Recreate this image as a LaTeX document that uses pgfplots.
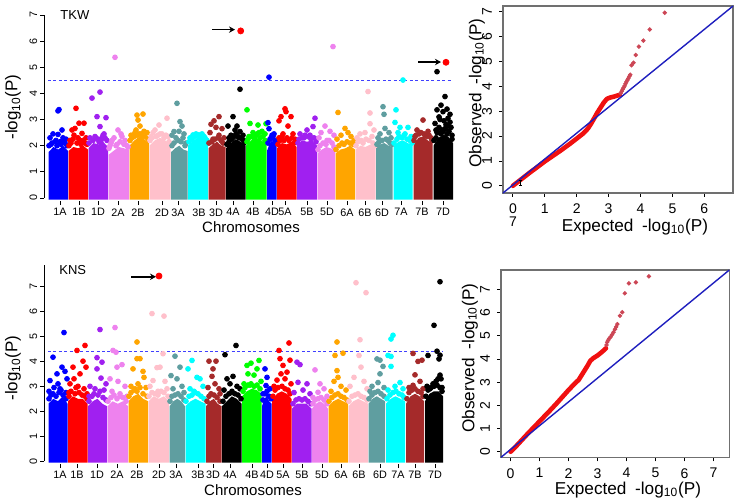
\documentclass[border=0pt]{standalone}
\usepackage{fontspec}
\setmainfont{Liberation Sans}
\usepackage{pgfplots}
\pgfplotsset{compat=1.18}
\usetikzlibrary{arrows.meta}
\definecolor{cBlue}{HTML}{0000FF}
\definecolor{cRed}{HTML}{FF0000}
\definecolor{cPurple}{HTML}{A020F0}
\definecolor{cViolet}{HTML}{EE82EE}
\definecolor{cOrange}{HTML}{FFA500}
\definecolor{cPink}{HTML}{FFC0CB}
\definecolor{cCadet}{HTML}{5F9EA0}
\definecolor{cCyan}{HTML}{00FFFF}
\definecolor{cBrown}{HTML}{A52A2A}
\definecolor{cBlack}{HTML}{000000}
\definecolor{cGreen}{HTML}{00FF00}
\definecolor{cThr}{HTML}{4040FF}
\definecolor{qqgray}{HTML}{707070}
\definecolor{qqred}{HTML}{F01010}
\definecolor{qqsparse}{HTML}{CC4655}
\definecolor{qqblue}{HTML}{1E1EBE}
\newcommand{\chrom}[4]{%
  \addplot[draw=none,fill=#1,forget plot] coordinates {#2};
  \addplot[only marks,mark=*,mark size=1.2pt,color=#1,forget plot] coordinates {#3 #4};}
\pgfplotsset{
 manh/.style={anchor=south west, x=0.5pt, clip=false, enlargelimits=false,
   axis lines*=left, axis line style={draw=none}, tick align=outside,
   major tick length=2pt, tick style={black,line width=0.4pt},
   ticklabel style={font=\fontsize{5.4}{6}\selectfont},
   yticklabel style={rotate=90,anchor=south,inner sep=1.2pt},
   xticklabel style={inner sep=1.5pt},
   ytick={0,...,7}, /pgf/number format/assume math mode=true},
 qq/.style={anchor=south west, clip=false, enlargelimits=false,
   axis line style={draw=qqgray,line width=0.6pt}, tick align=outside, tick pos=left,
   major tick length=2pt, tick style={black,line width=0.4pt},
   ticklabel style={font=\fontsize{7}{8}\selectfont},
   yticklabel style={rotate=90,anchor=south},
   /pgf/number format/assume math mode=true}
}
\begin{document}
\begin{tikzpicture}
\useasboundingbox (0pt,0pt) rectangle (369pt,-250.5pt);
% ---------------- TKW Manhattan ----------------
\begin{axis}[manh, at={(22pt,-100.55pt)}, y=13.07pt, xmin=44, xmax=456, ymin=-0.12, ymax=7.3,
 xtick={60,79,98,118,138,162,178,199,216,233,253,272,285,307,327,347,365,382,401,422,443},
 xticklabels={1A,1B,1D,2A,2B,2D,3A,3B,3D,4A,4B,4D,5A,5B,5D,6A,6B,6D,7A,7B,7D}]
\draw[black,line width=0.4pt] (axis cs:44,0) -- (axis cs:44,7);
\chrom{cBlue}{(48.5,-0.06)(48.5,1.75)(53.4,1.95)(58.3,1.85)(63.1,2.0)(68.0,1.8)(68.0,-0.06)}{(50,2.3)(53,2.45)(58,2.43)(58,3.33)(59,3.38)(62,2.6)(64,2.2)(66,2.25)(55,2.15)(61,2.05)(67,2.0)(52,2.1)}{(49,2.0)(51,2.05)(56,2.2)(60,2.15)(63,2.3)(65,2.1)(57,2.0)}
\chrom{cRed}{(68.5,-0.06)(68.5,1.8)(73.4,1.95)(78.3,1.9)(83.1,2.0)(88.0,1.85)(88.0,-0.06)}{(70,2.2)(72,2.6)(76,3.43)(79,2.86)(84,2.86)(82,2.47)(75,2.66)(86,2.3)(73,2.25)(80,2.2)(77,2.1)(87,2.05)}{(69,2.0)(71,2.1)(74,2.4)(78,2.3)(81,2.05)(85,2.1)(83,2.2)}
\chrom{cPurple}{(88.5,-0.06)(88.5,1.9)(93.4,2.1)(98.3,2.05)(103.1,2.15)(108.0,1.95)(108.0,-0.06)}{(92,3.82)(100,4.05)(97,3.11)(106,3.07)(100,2.73)(104,2.45)(95,2.35)(90,2.3)(102,2.3)(107,2.2)(98,2.25)}{(89,2.1)(93,2.2)(96,2.3)(99,2.15)(103,2.4)(105,2.3)(101,2.2)}
\chrom{cViolet}{(108.5,-0.06)(108.5,1.65)(113.6,1.8)(118.8,1.95)(123.9,1.9)(129.0,1.85)(129.0,-0.06)}{(115,5.38)(118,2.6)(121,2.45)(122,2.35)(112,2.2)(125,2.2)(117,2.05)(110,2.0)(127,2.0)}{(109,1.9)(111,2.1)(114,2.3)(116,2.0)(120,2.15)(124,2.05)(128,1.95)}
\chrom{cOrange}{(129.5,-0.06)(129.5,2.0)(134.4,2.2)(139.3,2.35)(144.1,2.25)(149.0,2.1)(149.0,-0.06)}{(137,3.17)(143,3.21)(138,2.98)(140,2.75)(136,2.6)(144,2.55)(131,2.4)(147,2.5)(139,2.45)(134,2.35)(142,2.35)}{(130,2.2)(132,2.3)(135,2.5)(141,2.45)(145,2.35)(148,2.25)(137,2.4)}
\chrom{cPink}{(149.5,-0.06)(149.5,2.0)(154.8,2.2)(160.0,2.3)(165.3,2.2)(170.5,2.0)(170.5,-0.06)}{(167,3.05)(159,2.79)(153,2.5)(155,2.6)(162,2.45)(168,2.35)(151,2.35)(158,2.4)}{(150,2.2)(152,2.3)(156,2.35)(160,2.45)(164,2.3)(166,2.4)(169,2.15)}
\chrom{cCadet}{(171.0,-0.06)(171.0,1.75)(175.1,1.9)(179.3,2.0)(183.4,1.85)(187.5,1.8)(187.5,-0.06)}{(177,3.62)(180,2.92)(182,2.75)(174,2.54)(179,2.55)(184,2.45)(172,2.4)(176,2.3)(186,2.1)}{(172,2.0)(174,2.1)(178,2.2)(181,2.15)(183,2.3)(185,2.0)}
\chrom{cCyan}{(188.0,-0.06)(188.0,2.0)(193.0,2.2)(198.0,2.3)(203.0,2.25)(208.0,2.05)(208.0,-0.06)}{(193,2.41)(199,2.41)(190,2.3)(204,2.35)(196,2.45)(201,2.3)(206,2.15)}{(189,2.15)(192,2.25)(195,2.35)(198,2.4)(202,2.45)(205,2.3)(207,2.2)}
\chrom{cBrown}{(208.5,-0.06)(208.5,1.9)(212.8,2.05)(217.0,2.15)(221.3,2.0)(225.5,1.95)(225.5,-0.06)}{(219,3.11)(211,2.82)(214,2.95)(216,2.7)(222,2.65)(210,2.5)(219,2.4)(224,2.3)(213,2.25)}{(209,2.1)(212,2.15)(215,2.25)(218,2.3)(221,2.2)(223,2.1)}
\chrom{cBlack}{(226.0,-0.06)(226.0,1.9)(230.9,2.1)(235.8,2.25)(240.6,2.15)(245.5,2.0)(245.5,-0.06)}{(233,3.11)(228,2.75)(237,2.75)(240,4.16)(240,2.54)(235,2.6)(231,2.4)(238,2.35)(243,2.4)(229,2.3)(244,2.2)}{(227,2.05)(229,2.15)(232,2.25)(234,2.35)(236,2.45)(239,2.3)(242,2.25)(244,2.1)}
\chrom{cGreen}{(246.0,-0.06)(246.0,2.0)(251.1,2.2)(256.3,2.3)(261.4,2.2)(266.5,2.05)(266.5,-0.06)}{(247,3.37)(250,2.85)(258,2.79)(266,2.84)(253,2.5)(256,2.4)(262,2.55)(249,2.35)(260,2.3)(265,2.45)}{(247,2.15)(248,2.25)(252,2.35)(254,2.3)(257,2.45)(259,2.5)(263,2.35)(265,2.2)}
\chrom{cBlue}{(267.0,-0.06)(267.0,1.8)(269.4,2.05)(271.8,2.2)(274.1,2.1)(276.5,1.95)(276.5,-0.06)}{(269,4.62)(268,2.88)(269,2.65)(274,2.45)(271,2.3)(275,2.2)}{(268,2.1)(270,2.25)(272,2.4)(273,2.35)(276,2.1)}
\chrom{cRed}{(277.0,-0.06)(277.0,1.9)(281.9,2.1)(286.8,2.05)(291.6,2.15)(296.5,1.95)(296.5,-0.06)}{(285,3.41)(286,3.3)(281,3.11)(279,2.95)(291,3.11)(288,2.75)(293,2.45)(283,2.45)(279,2.3)(295,2.25)}{(278,2.05)(280,2.2)(282,2.35)(284,2.2)(287,2.3)(289,2.2)(292,2.3)(294,2.1)}
\chrom{cPurple}{(297.0,-0.06)(297.0,2.0)(302.0,2.2)(307.0,2.15)(312.0,2.2)(317.0,2.0)(317.0,-0.06)}{(315,3.05)(313,2.73)(307,2.6)(300,2.45)(310,2.4)(304,2.3)(316,2.25)}{(298,2.1)(299,2.25)(302,2.3)(305,2.4)(308,2.35)(311,2.25)(314,2.3)(316,2.15)}
\chrom{cViolet}{(317.5,-0.06)(317.5,1.7)(321.9,1.85)(326.3,1.95)(330.6,1.9)(335.0,1.8)(335.0,-0.06)}{(333,5.79)(325,2.75)(330,2.55)(321,2.5)(334,2.4)(319,2.3)(327,2.2)}{(318,1.85)(320,2.0)(323,2.1)(326,2.05)(329,2.2)(332,2.1)(334,1.95)}
\chrom{cOrange}{(335.5,-0.06)(335.5,1.7)(340.4,1.85)(345.3,1.9)(350.1,2.0)(355.0,1.85)(355.0,-0.06)}{(338,3.27)(345,2.66)(348,2.5)(341,2.4)(351,2.35)(337,2.25)(354,2.2)}{(336,1.85)(339,2.0)(342,2.1)(344,2.05)(347,2.15)(350,2.1)(353,2.05)}
\chrom{cPink}{(355.5,-0.06)(355.5,1.85)(360.5,2.0)(365.5,1.95)(370.5,2.05)(375.5,1.9)(375.5,-0.06)}{(368,4.07)(370,3.25)(370,2.84)(365,2.5)(360,2.45)(374,2.6)(372,2.35)(357,2.3)}{(356,2.0)(358,2.15)(361,2.2)(363,2.1)(366,2.25)(369,2.2)(373,2.1)(375,2.0)}
\chrom{cCadet}{(376.0,-0.06)(376.0,1.9)(380.1,2.05)(384.3,2.1)(388.4,2.0)(392.5,1.95)(392.5,-0.06)}{(383,3.49)(384,3.2)(385,2.66)(380,2.45)(389,2.5)(378,2.3)(391,2.3)}{(377,2.05)(379,2.15)(382,2.2)(386,2.25)(388,2.2)(390,2.1)(392,2.05)}
\chrom{cCyan}{(393.5,-0.06)(393.5,1.95)(398.3,2.15)(403.0,2.2)(407.8,2.1)(412.5,2.0)(412.5,-0.06)}{(403,4.51)(396,3.37)(395,2.89)(400,2.7)(408,2.7)(398,2.5)(405,2.45)(411,2.35)}{(394,2.1)(397,2.25)(399,2.35)(402,2.3)(404,2.4)(407,2.25)(410,2.2)(412,2.1)}
\chrom{cBrown}{(413.5,-0.06)(413.5,2.0)(418.3,2.3)(423.0,2.35)(427.8,2.2)(432.5,2.1)(432.5,-0.06)}{(423,2.98)(420,2.5)(417,2.6)(428,2.55)(425,2.4)(415,2.35)(431,2.3)}{(414,2.2)(416,2.4)(419,2.45)(421,2.5)(424,2.45)(427,2.35)(429,2.4)(432,2.2)}
\chrom{cBlack}{(433.5,-0.06)(433.5,2.0)(438.4,2.3)(443.3,2.4)(448.1,2.35)(453.0,2.1)(453.0,-0.06)}{(437,4.83)(445,3.88)(437,3.37)(443,3.3)(448,3.05)(450,3.2)(440,3.0)(446,2.8)(435,2.85)(451,2.7)(442,2.6)(438,2.5)(447,2.45)(452,2.4)(436,2.3)(444,2.3)}{(434,2.2)(437,2.5)(439,2.7)(441,2.45)(443,2.55)(445,2.65)(449,2.55)(450,2.9)(452,2.25)(439,3.1)(444,2.95)(448,2.75)(436,2.6)(447,3.4)(441,3.55)}
\addplot[draw=cThr,dash pattern=on 1.5pt off 1.2pt,line width=0.6pt,forget plot] coordinates {(48,4.5)(453,4.5)};
\addplot[only marks,mark=*,mark size=1.5pt,color=cRed,forget plot] coordinates {(240.7,6.39)(446,5.19)};
\addplot[black,line width=0.8pt,-{Stealth[length=3pt,width=3.2pt]},forget plot] coordinates {(212,6.44)(235,6.44)};
\addplot[black,line width=0.8pt,-{Stealth[length=3pt,width=3.2pt]},forget plot] coordinates {(418,5.2)(441,5.2)};
\end{axis}
% ---------------- KNS Manhattan ----------------
\begin{axis}[manh, at={(22pt,-232pt)}, y=12.45pt, xmin=44, xmax=446, ymin=-0.12, ymax=8.0,
 xtick={60,77,97,117,137,159,176,198,213,230,252,267,283,302,322,341,359,380,398,415,435},
 xticklabels={1A,1B,1D,2A,2B,2D,3A,3B,3D,4A,4B,4D,5A,5B,5D,6A,6B,6D,7A,7B,7D}]
\draw[black,line width=0.4pt] (axis cs:44,0) -- (axis cs:44,7.88);
\chrom{cBlue}{(48.5,-0.06)(48.5,2.3)(53.3,2.5)(58.0,2.4)(62.8,2.6)(67.5,2.3)(67.5,-0.06)}{(64,5.16)(53,4.17)(62,3.77)(65,3.6)(57,3.5)(50,3.23)(67,3.3)(58,3.1)(54,2.95)(61,2.85)(49,2.8)(66,2.75)}{(49,2.5)(51,2.65)(53,2.7)(56,2.6)(59,2.75)(63,2.65)(66,2.5)(60,2.9)}
\chrom{cRed}{(68.0,-0.06)(68.0,2.4)(72.9,2.6)(77.8,2.5)(82.6,2.5)(87.5,2.3)(87.5,-0.06)}{(77,4.44)(85,4.64)(83,4.01)(86,3.77)(73,3.77)(80,3.5)(74,3.3)(70,3.1)(78,3.0)(84,2.9)(69,2.75)(87,2.7)}{(69,2.6)(71,2.8)(75,2.7)(79,2.75)(82,2.65)(85,2.6)(87,2.5)(76,2.95)}
\chrom{cPurple}{(88.0,-0.06)(88.0,2.2)(92.8,2.4)(97.5,2.5)(102.3,2.3)(107.0,2.2)(107.0,-0.06)}{(100,5.28)(97,4.15)(102,3.97)(97,3.7)(101,3.33)(90,3.0)(95,2.9)(104,2.85)(106,3.1)(89,2.6)}{(89,2.4)(92,2.6)(94,2.7)(98,2.65)(100,2.8)(103,2.55)(106,2.45)}
\chrom{cViolet}{(107.5,-0.06)(107.5,2.2)(112.6,2.4)(117.8,2.3)(122.9,2.4)(128.0,2.2)(128.0,-0.06)}{(115,5.36)(113,4.44)(116,4.37)(122,3.87)(117,3.77)(110,3.3)(118,3.2)(125,3.0)(112,2.8)(120,2.7)(127,2.6)}{(108,2.4)(111,2.55)(114,2.65)(117,2.5)(120,2.6)(123,2.55)(126,2.4)}
\chrom{cOrange}{(128.5,-0.06)(128.5,2.4)(133.4,2.6)(138.3,2.7)(143.1,2.5)(148.0,2.4)(148.0,-0.06)}{(137,4.78)(140,4.11)(137,4.11)(133,3.7)(143,3.6)(144,3.36)(131,3.0)(138,3.1)(146,2.95)(135,2.9)}{(129,2.6)(131,2.75)(134,2.85)(137,2.8)(140,2.95)(143,2.7)(147,2.6)}
\chrom{cPink}{(148.5,-0.06)(148.5,2.4)(153.6,2.6)(158.8,2.5)(163.9,2.6)(169.0,2.4)(169.0,-0.06)}{(152,5.92)(164,5.82)(163,4.31)(160,3.77)(157,3.75)(153,3.23)(165,3.2)(150,3.0)(167,2.9)(158,2.8)}{(149,2.6)(152,2.75)(155,2.7)(158,2.65)(161,2.8)(164,2.75)(168,2.6)}
\chrom{cCadet}{(169.5,-0.06)(169.5,2.2)(173.4,2.4)(177.3,2.5)(181.1,2.4)(185.0,2.2)(185.0,-0.06)}{(175,4.21)(180,3.77)(171,3.43)(177,3.3)(182,3.0)(173,2.9)(184,2.75)}{(170,2.4)(172,2.6)(175,2.65)(178,2.7)(181,2.6)(184,2.45)}
\chrom{cCyan}{(185.5,-0.06)(185.5,2.2)(190.5,2.4)(195.5,2.5)(200.5,2.4)(205.5,2.3)(205.5,-0.06)}{(192,4.04)(188,3.7)(197,3.36)(200,3.3)(203,3.0)(190,2.9)(194,2.8)}{(186,2.4)(189,2.6)(192,2.65)(195,2.75)(198,2.7)(201,2.6)(204,2.5)}
\chrom{cBrown}{(206.0,-0.06)(206.0,2.2)(209.9,2.4)(213.8,2.5)(217.6,2.3)(221.5,2.2)(221.5,-0.06)}{(209,4.01)(216,4.01)(213,3.7)(212,3.4)(215,3.1)(208,2.95)(219,2.9)(220,2.7)}{(207,2.4)(209,2.6)(211,2.7)(214,2.65)(217,2.55)(220,2.4)}
\chrom{cBlack}{(222.0,-0.06)(222.0,2.2)(226.9,2.4)(231.8,2.6)(236.6,2.5)(241.5,2.3)(241.5,-0.06)}{(225,4.27)(236,4.64)(227,3.3)(233,3.4)(230,3.1)(237,3.0)(224,2.85)(240,2.9)(232,2.75)}{(223,2.4)(226,2.6)(229,2.7)(232,2.8)(235,2.7)(238,2.65)(241,2.5)}
\chrom{cGreen}{(242.0,-0.06)(242.0,2.6)(246.9,2.8)(251.8,2.9)(256.6,2.85)(261.5,2.7)(261.5,-0.06)}{(247,3.84)(251,3.93)(259,4.04)(248,3.5)(254,3.45)(257,3.7)(244,3.1)(261,3.2)(250,3.05)}{(243,2.8)(245,2.95)(248,3.05)(251,3.1)(254,3.0)(257,3.05)(260,2.9)}
\chrom{cBlue}{(262.0,-0.06)(262.0,2.2)(264.4,2.5)(266.8,2.6)(269.1,2.4)(271.5,2.3)(271.5,-0.06)}{(265,3.7)(267,3.36)(266,3.03)(270,2.9)(263,2.7)}{(263,2.45)(265,2.7)(267,2.8)(269,2.6)(271,2.5)}
\chrom{cRed}{(272.0,-0.06)(272.0,2.4)(276.9,2.7)(281.8,2.8)(286.6,2.7)(291.5,2.5)(291.5,-0.06)}{(279,4.44)(289,4.74)(280,4.11)(290,4.05)(283,3.84)(287,3.57)(281,3.5)(285,3.3)(277,3.25)(274,3.0)(291,3.1)}{(273,2.6)(275,2.85)(278,2.95)(282,3.0)(285,2.9)(288,2.85)(290,2.7)}
\chrom{cPurple}{(292.0,-0.06)(292.0,2.1)(296.9,2.3)(301.8,2.3)(306.6,2.3)(311.5,2.1)(311.5,-0.06)}{(297,3.97)(300,3.87)(298,3.16)(307,3.1)(303,2.85)(310,2.7)(294,2.75)}{(293,2.3)(296,2.45)(299,2.5)(302,2.45)(305,2.5)(308,2.4)(311,2.3)}
\chrom{cViolet}{(312.0,-0.06)(312.0,2.1)(316.0,2.3)(320.0,2.4)(324.0,2.3)(328.0,2.1)(328.0,-0.06)}{(315,3.66)(320,3.1)(318,2.76)(324,2.9)(327,2.6)(313,2.55)}{(313,2.3)(315,2.45)(318,2.5)(321,2.55)(324,2.45)(327,2.3)}
\chrom{cOrange}{(328.5,-0.06)(328.5,2.2)(333.4,2.4)(338.3,2.5)(343.1,2.4)(348.0,2.3)(348.0,-0.06)}{(335,4.24)(337,4.78)(343,4.33)(337,3.63)(338,3.36)(334,3.2)(341,3.0)(346,2.85)(331,2.8)}{(329,2.4)(332,2.55)(335,2.65)(338,2.7)(341,2.6)(344,2.55)(347,2.45)}
\chrom{cPink}{(348.5,-0.06)(348.5,2.2)(353.4,2.4)(358.3,2.5)(363.1,2.4)(368.0,2.3)(368.0,-0.06)}{(356,7.16)(366,6.76)(360,4.87)(359,4.24)(361,3.77)(354,3.36)(364,3.2)(350,3.0)(367,2.9)}{(349,2.4)(352,2.6)(355,2.65)(358,2.7)(361,2.6)(364,2.55)(367,2.45)}
\chrom{cCadet}{(368.5,-0.06)(368.5,2.3)(372.6,2.5)(376.8,2.6)(380.9,2.5)(385.0,2.4)(385.0,-0.06)}{(377,4.1)(380,4.05)(383,3.8)(380,3.5)(378,3.15)(372,3.0)(384,2.95)(370,2.8)}{(369,2.5)(372,2.65)(375,2.75)(378,2.8)(381,2.7)(384,2.6)}
\chrom{cCyan}{(386.0,-0.06)(386.0,2.3)(390.8,2.5)(395.5,2.6)(400.3,2.5)(405.0,2.4)(405.0,-0.06)}{(393,5.05)(391,4.9)(388,4.24)(391,4.2)(391,3.8)(400,3.15)(395,3.0)(403,2.9)(388,2.85)}{(387,2.5)(390,2.65)(393,2.75)(396,2.8)(399,2.7)(402,2.65)(404,2.55)}
\chrom{cBrown}{(406.0,-0.06)(406.0,2.3)(410.5,2.6)(415.0,2.7)(419.5,2.6)(424.0,2.4)(424.0,-0.06)}{(413,4.32)(418,4.0)(422,4.05)(415,3.46)(413,3.04)(420,3.2)(409,2.95)(423,2.9)}{(407,2.5)(409,2.75)(412,2.85)(415,2.9)(418,2.8)(421,2.75)(423,2.6)}
\chrom{cBlack}{(425.0,-0.06)(425.0,2.4)(429.5,2.7)(434.0,2.8)(438.5,2.8)(443.0,2.6)(443.0,-0.06)}{(440,7.2)(434,5.45)(437,4.41)(428,4.24)(440,4.25)(439,4.1)(440,3.45)(438,3.3)(433,3.1)(427,3.0)(442,2.95)(430,2.9)}{(426,2.6)(428,2.85)(431,2.95)(434,3.0)(437,3.05)(440,2.95)(442,2.8)(436,3.2)(441,3.3)}
\addplot[draw=cThr,dash pattern=on 1.5pt off 1.2pt,line width=0.6pt,forget plot] coordinates {(48,4.41)(443,4.41)};
\addplot[only marks,mark=*,mark size=1.5pt,color=cRed,forget plot] coordinates {(159,7.43)};
\addplot[black,line width=0.8pt,-{Stealth[length=3pt,width=3.2pt]},forget plot] coordinates {(131,7.4)(156,7.4)};
\end{axis}
% ---------------- TKW QQ ----------------
\begin{axis}[qq, at={(251.5pt,-96.5pt)}, x=15.95pt, y=12.43pt, xmin=-0.31, xmax=6.9, ymin=-0.29, ymax=7.23,
  xtick={0,...,6}, ytick={0,...,7}]
\addplot[qqred,line width=2.3pt,line cap=round,line join=round] coordinates {(0,0)(0.25,0.25)(0.5,0.5)(0.75,0.74)(1.0,0.98)(1.25,1.2)(1.5,1.42)(1.8,1.7)(2.0,1.9)(2.2,2.1)(2.35,2.3)(2.45,2.5)(2.55,2.72)(2.65,2.95)(2.75,3.15)(2.85,3.35)(2.95,3.5)(3.05,3.55)(3.15,3.58)(3.25,3.62)(3.35,3.66)};
\addplot[only marks,mark=*,mark size=0.9pt,color=qqsparse] coordinates {(3.38,3.72)(3.41,3.8)(3.44,3.88)(3.47,3.95)(3.5,4.02)(3.53,4.1)(3.56,4.18)(3.59,4.25)(3.62,4.32)(3.65,4.4)(3.68,4.47)(3.72,4.85)(3.78,4.95)(3.85,5.26)(3.95,5.6)(4.09,5.84)(4.29,6.29)(4.76,6.96)};
\addplot[qqblue,line width=0.7pt] coordinates {(-0.31,-0.29)(6.9,7.23)};
\draw[black,line width=0.4pt] (axis cs:0.22,0.03) -- (axis cs:0.22,0.23) (axis cs:0.18,0.03) -- (axis cs:0.29,0.03) (axis cs:0.18,0.23) -- (axis cs:0.29,0.23);
\end{axis}
% ---------------- KNS QQ ----------------
\begin{axis}[qq, at={(250.5pt,-228.65pt)}, x=14.5pt, y=11.6pt, xmin=-0.33, xmax=7.54, ymin=-0.24, ymax=7.83,
  xtick={0,...,7}, ytick={0,...,7}]
\addplot[qqred,line width=2.3pt,line cap=round,line join=round] coordinates {(0,0)(0.2,0.25)(0.4,0.52)(0.6,0.79)(0.8,1.05)(1.0,1.31)(1.2,1.57)(1.4,1.83)(1.6,2.1)(1.8,2.38)(2.0,2.66)(2.2,2.92)(2.35,3.1)(2.45,3.3)(2.55,3.5)(2.65,3.7)(2.75,3.92)(2.85,4.03)(3.0,4.15)(3.15,4.3)(3.29,4.46)};
\addplot[only marks,mark=*,mark size=0.9pt,color=qqsparse] coordinates {(3.31,4.6)(3.33,4.72)(3.36,4.8)(3.4,4.88)(3.45,4.95)(3.5,5.05)(3.55,5.15)(3.6,5.28)(3.64,5.38)(3.68,5.5)(3.77,5.86)(3.85,6.01)(3.94,6.83)(4.08,7.26)(4.32,7.3)(4.77,7.56)};
\addplot[qqblue,line width=0.7pt] coordinates {(-0.33,-0.24)(7.54,7.83)};
\end{axis}
% ---------------- texts ----------------
\node[anchor=west,inner sep=0pt,font=\fontsize{6.5}{7}\selectfont] at (30pt,-7.5pt) {TKW};
\node[anchor=west,inner sep=0pt,font=\fontsize{6.5}{7}\selectfont] at (29.5pt,-135pt) {KNS};
\node[rotate=90,inner sep=0pt,font=\fontsize{8.5}{9}\selectfont] at (6.5pt,-53.5pt) {-log\textsubscript{10}(P)};
\node[rotate=90,inner sep=0pt,font=\fontsize{8.5}{9}\selectfont] at (6.5pt,-184pt) {-log\textsubscript{10}(P)};
\node[inner sep=0pt,font=\fontsize{7.5}{8}\selectfont] at (125.5pt,-113.5pt) {Chromosomes};
\node[inner sep=0pt,font=\fontsize{7.5}{8}\selectfont] at (126.5pt,-245pt) {Chromosomes};
\node[rotate=90,inner sep=0pt,font=\fontsize{8.6}{9}\selectfont] at (238.5pt,-46.5pt) {Observed\hspace{0.5em}-log\textsubscript{10}(P)};
\node[rotate=90,inner sep=0pt,font=\fontsize{8.6}{9}\selectfont] at (235pt,-179pt) {Observed\hspace{0.5em}-log\textsubscript{10}(P)};
\node[inner sep=0pt,font=\fontsize{8.6}{9}\selectfont] at (317.5pt,-113.5pt) {Expected\hspace{0.5em}-log\textsubscript{10}(P)};
\node[inner sep=0pt,font=\fontsize{8.6}{9}\selectfont] at (314pt,-245pt) {Expected\hspace{0.5em}-log\textsubscript{10}(P)};
\node[inner sep=0pt,font=\fontsize{7}{8}\selectfont] at (256.5pt,-111pt) {7};
\end{tikzpicture}
\end{document}
